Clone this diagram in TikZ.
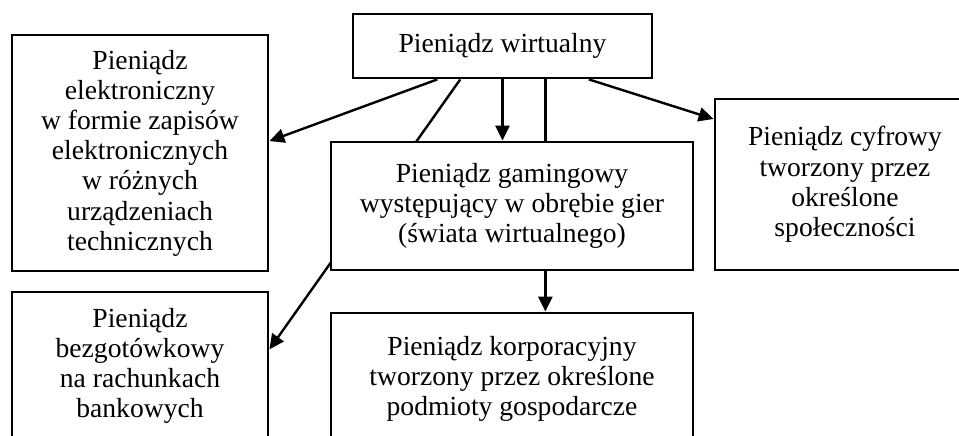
\documentclass[tikz,border=0pt]{standalone}
\usepackage{fontspec}
\setmainfont{Liberation Serif}
\usepackage{tikz}
\usetikzlibrary{arrows.meta, positioning, calc, backgrounds}

\begin{document}
\begin{tikzpicture}[x=0.5pt, y=-0.5pt,
        box/.style={draw, line width=1.4pt, fill=white, align=center, inner sep=2pt,
            font=\fontsize{13.8}{15.1}\selectfont},
        arr/.style={line width=1.2pt, -{Triangle[length=7.5pt, width=7pt]}}]
    \useasboundingbox (0,0) rectangle (959,435);
    \clip (0,0) rectangle (959,435);

    \node[box, minimum width=149.5pt, minimum height=32pt] (virt) at (502.5,46) {Pieniądz wirtualny};
    \node[box, minimum width=128pt, minimum height=118pt] (elek) at (140,153)
        {Pieniądz\\elektroniczny\\w formie zapisów\\elektronicznych\\w różnych\\urządzeniach\\technicznych};
    \node[box, minimum width=128pt, minimum height=74pt] (bezg) at (140,366)
        {Pieniądz\\bezgotówkowy\\na rachunkach\\bankowych};
    \node[box, minimum width=181pt, minimum height=64pt] (gaming) at (512,206)
        {Pieniądz gamingowy\\występujący w obrębie gier\\(świata wirtualnego)};
    \node[box, minimum width=181pt, minimum height=66pt] (korp) at (512,379)
        {Pieniądz korporacyjny\\tworzony przez określone\\podmioty gospodarcze};
    \node[box, minimum width=130pt, minimum height=85.5pt] (cyfr) at (845,184.5)
        {Pieniądz cyfrowy\\tworzony przez\\określone\\społeczności};

    % connectors behind the boxes
    \begin{pgfonlayer}{background}
        \coordinate (v1) at ($(virt.south west)!0.284!(virt.south east)$);
        \coordinate (v2) at ($(virt.south west)!0.36!(virt.south east)$);
        \coordinate (v4) at ($(virt.south west)!0.642!(virt.south east)$);
        \coordinate (v5) at ($(virt.south west)!0.786!(virt.south east)$);
        \draw[arr] (v1) -- ($(elek.north east)!0.45!(elek.south east)$);
        \draw[arr] (v2) -- ($(bezg.north east)!0.39!(bezg.south east)$);
        \draw[arr] (virt.south) -- (virt.south |- gaming.north);
        \draw[arr] (v4) -- (v4 |- korp.north);
        \draw[arr] (v5) -- ($(cyfr.north west)!0.123!(cyfr.south west)$);
    \end{pgfonlayer}
\end{tikzpicture}
\end{document}
